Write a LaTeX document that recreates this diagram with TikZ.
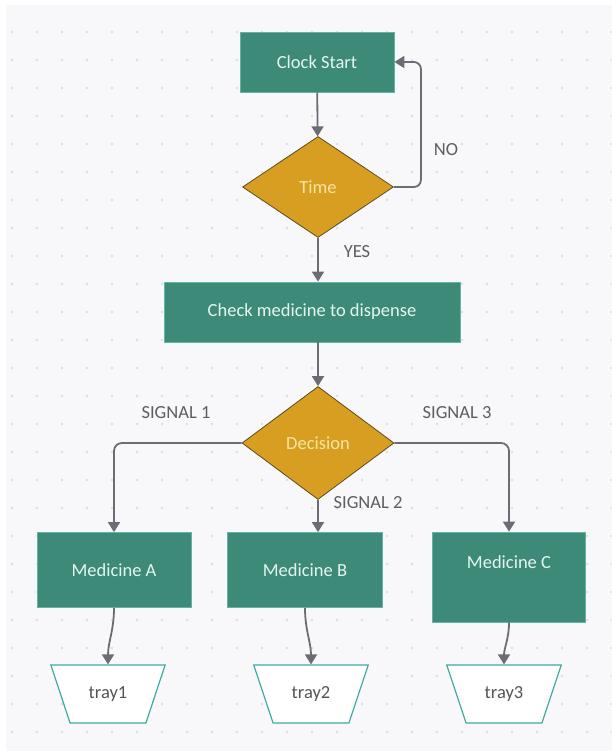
\documentclass[tikz,border=0pt]{standalone}
\usepackage{fontspec}
\setmainfont{Carlito}
\usetikzlibrary{shapes.geometric,arrows.meta}

\definecolor{boxteal}{HTML}{3D8A79}
\definecolor{boxedge}{HTML}{5FB5A6}
\definecolor{boxtext}{HTML}{E4F6F1}
\definecolor{choicegold}{HTML}{D89E22}
\definecolor{choiceedge}{HTML}{5E4A1E}
\definecolor{choicetext}{HTML}{F8E6A0}
\definecolor{trayedge}{HTML}{3FAAA4}
\definecolor{traytext}{HTML}{555555}
\definecolor{flowgray}{HTML}{6C6C74}
\definecolor{taggray}{HTML}{5E5E5E}
\definecolor{canvas}{HTML}{F8F8FB}
\definecolor{griddot}{HTML}{DDDDE4}

\begin{document}
\begin{tikzpicture}[x=1pt, y=-1pt,
  every node/.style = {font=\fontsize{18.5}{22}\selectfont},
  box/.style = {shape=rectangle, draw=boxedge, line width=0.8pt, fill=boxteal, text=boxtext},
  choice/.style = {shape=diamond, draw=choiceedge, line width=0.8pt, fill=choicegold, text=choicetext, inner sep=0pt},
  tray/.style = {shape=trapezium, trapezium left angle=62, trapezium right angle=62,
    shape border rotate=180, trapezium stretches=true, minimum width=115pt, minimum height=58pt,
    draw=trayedge, line width=1.2pt, fill=white, text=traytext},
  flow/.style = {draw=flowgray, line width=1.8pt, -{Triangle[width=12pt,length=10pt]}},
  tag/.style = {text=taggray}]
  \useasboundingbox (0,0) rectangle (612,751);
  \fill[white] (0,0) rectangle (612,751);
  \fill[canvas] (6,5) rectangle (612,751);
  \foreach \gx in {12,37,...,612}
    \foreach \gy in {32,60,...,751}
      \fill[griddot] (\gx,\gy) circle (1.3pt);

  \node[box, minimum width=154pt, minimum height=60pt] (clock) at (317,62) {Clock Start};
  \node[choice, minimum width=151pt, minimum height=101pt] (time) at (318,187) {Time};
  \node[box, minimum width=296pt, minimum height=60pt] (check) at (312,312) {Check medicine to dispense};
  \node[choice, minimum width=152pt, minimum height=113pt] (decision) at (318,443) {Decision};
  \node[box, minimum width=154pt, minimum height=75pt] (medA) at (114,570) {Medicine A};
  \node[box, minimum width=155pt, minimum height=75pt] (medB) at (305,570) {Medicine B};
  \node[box, minimum width=153pt, minimum height=90pt, text depth=30pt] (medC) at (509,577) {Medicine C};
  \node[tray] (tray1) at (108,694) {tray1};
  \node[tray] (tray2) at (311,694) {tray2};
  \node[tray] (tray3) at (504,694) {tray3};

  \draw[flow] (clock) -- (time);
  \draw[flow, rounded corners=7pt] (time.east) -- ++(27,0) |- (clock.east);
  \node[tag] (no) at (446,150) {NO};
  \draw[flow] (time.south) -- (time.south |- check.north);
  \node[tag] (yes) at (357,252) {YES};
  \draw[flow] (decision.north |- check.south) -- (decision.north);
  \draw[flow, rounded corners=8pt] (decision.west) -| (medA.north);
  \draw[flow] (decision.south) -- (decision.south |- medB.north);
  \draw[flow, rounded corners=8pt] (decision.east) -| (medC.north);
  \node[tag] (sig1) at (176,413) {SIGNAL 1};
  \node[tag] (sig2) at (368,503) {SIGNAL 2};
  \node[tag] (sig3) at (457,413) {SIGNAL 3};
  \draw[flow] (medA.south) to[out=-90, in=90] (tray1.north);
  \draw[flow] (medB.south) to[out=-90, in=90] (tray2.north);
  \draw[flow] (medC.south) to[out=-90, in=90] (tray3.north);
\end{tikzpicture}
\end{document}
